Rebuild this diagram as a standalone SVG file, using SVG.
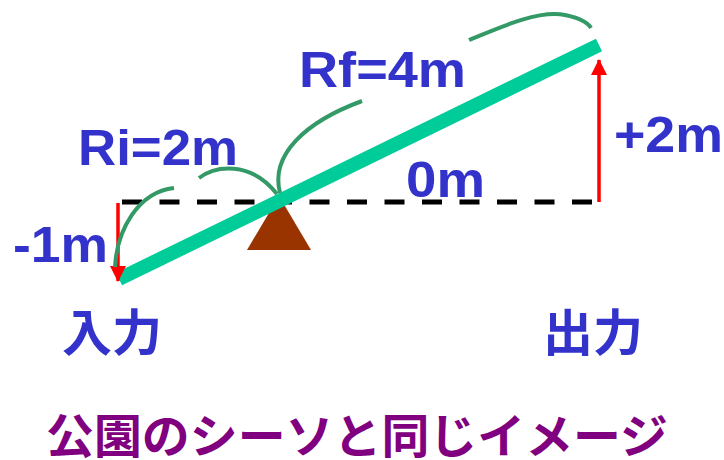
<svg xmlns="http://www.w3.org/2000/svg" width="724" height="460" viewBox="0 0 724 460">
<style>
.lbl{font-family:"Liberation Sans",Arial,sans-serif;font-weight:bold;font-size:50px;fill:#3333CC}
.jp{font-family:"Noto Sans CJK JP","Noto Sans CJK SC",sans-serif;font-weight:bold;font-size:50px;fill:#3333CC}
.cap{font-family:"Noto Sans CJK JP","Noto Sans CJK SC",sans-serif;font-weight:bold;font-size:47px;fill:#800080}
.arc{fill:none;stroke:#339966;stroke-width:4;stroke-linecap:butt}
.red{stroke:#FF0000;stroke-width:3.5;fill:none}
</style>
<defs>
<marker id="ah" markerWidth="16" markerHeight="16" viewBox="0 0 16 16" refX="15" refY="8" orient="auto" markerUnits="userSpaceOnUse">
<path d="M0,0 L16,8 L0,16 Z" fill="#FF0000"/>
</marker>
</defs>
<g id="baseline-ref">
<line x1="122" y1="202" x2="592" y2="202" stroke="#000" stroke-width="5" stroke-dasharray="20 17.5"/>
</g>
<g id="fulcrum">
<polygon points="279,196 247,250 311,250" fill="#993300"/>
</g>
<g id="beam">
<line x1="119" y1="279" x2="599" y2="45" stroke="#00CC99" stroke-width="14"/>
</g>
<g id="connectors">
<line class="red" x1="118" y1="203" x2="118" y2="281" marker-end="url(#ah)"/>
<line class="red" x1="599" y1="202" x2="599" y2="60" marker-end="url(#ah)"/>
<path class="arc" d="M115,267 C117,230 138,192 174,188"/>
<path class="arc" d="M199,178 C215,166 250,160 277,194"/>
<path class="arc" d="M280,193 C270,155 305,122 362,101"/>
<path class="arc" d="M469,40 C505,25 540,10 565,15 C580,18 588,23 591,28"/>
</g>
<g id="labels">
<text class="lbl" x="78" y="165" textLength="160" lengthAdjust="spacingAndGlyphs">Ri=2m</text>
<text class="lbl" x="299" y="87" textLength="167" lengthAdjust="spacingAndGlyphs">Rf=4m</text>
<text class="lbl" x="406" y="197" textLength="79" lengthAdjust="spacingAndGlyphs">0m</text>
<text class="lbl" x="13" y="262" textLength="95" lengthAdjust="spacingAndGlyphs">-1m</text>
<text class="lbl" x="614" y="152" textLength="109" lengthAdjust="spacingAndGlyphs">+2m</text>
</g>
<g id="input"><text class="jp" x="62" y="351">入力</text></g>
<g id="output"><text class="jp" x="543" y="351">出力</text></g>
<g id="caption"><text class="cap" x="46" y="453" textLength="622" lengthAdjust="spacingAndGlyphs">公園のシーソと同じイメージ</text></g>
</svg>
